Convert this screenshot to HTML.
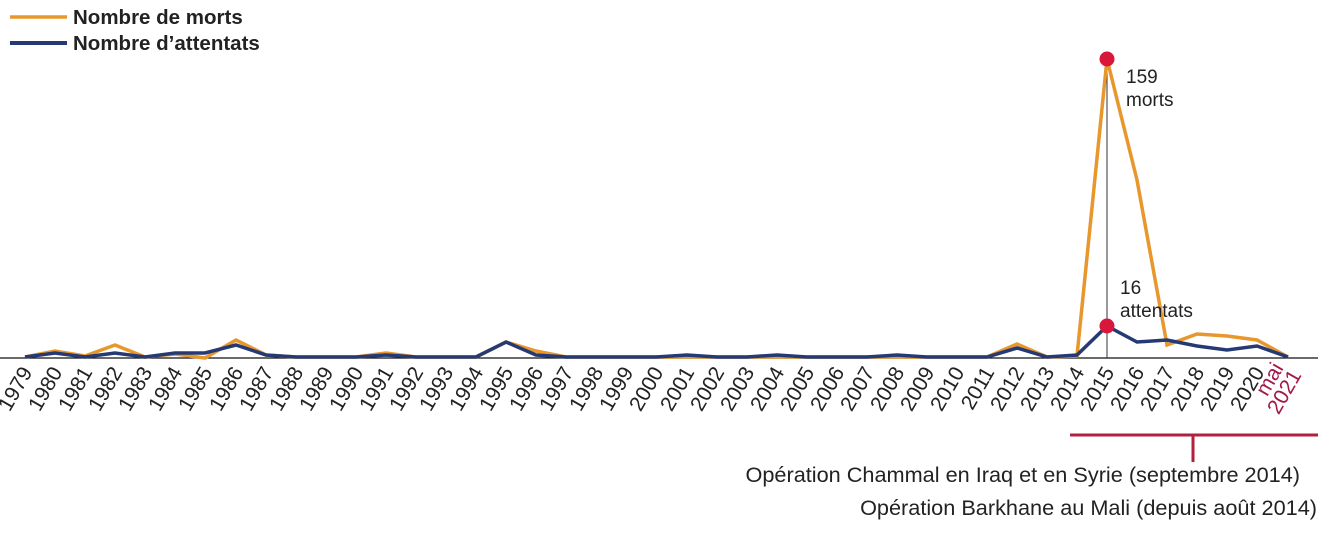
<!DOCTYPE html>
<html><head><meta charset="utf-8"><style>
html,body{margin:0;padding:0;background:#fff;}
svg{display:block;font-family:"Liberation Sans",sans-serif;}
</style></head><body>
<svg width="1332" height="533" viewBox="0 0 1332 533">
<line x1="10" y1="17" x2="67" y2="17" stroke="#e8972c" stroke-width="3.5"/>
<line x1="10" y1="43" x2="67" y2="43" stroke="#253a74" stroke-width="4"/>
<text x="73" y="24" font-size="20.5" font-weight="bold" fill="#222">Nombre de morts</text>
<text x="73" y="50" font-size="20.5" font-weight="bold" fill="#222">Nombre d’attentats</text>
<line x1="0" y1="358" x2="1318" y2="358" stroke="#111" stroke-width="1.3"/>
<line x1="1107" y1="60" x2="1107" y2="358" stroke="#333" stroke-width="1"/>
<polyline fill="none" stroke="#e8972c" stroke-width="3.5" stroke-linejoin="miter" points="25,357 55,351 85,356 115,345 145,357 175,354 205,358 236,340 266,355 296,357 326,357 356,357 386,353 416,357 446,357 476,357 506,342 536,351 566,357 596,357 626,357 656,357 687,357 717,357 747,357 777,357 807,357 837,357 867,357 897,357 927,357 957,357 987,357 1017,344 1047,357 1077,356 1107,59 1137,180 1167,345 1197,334 1227,336 1257,340 1288,357"/>
<polyline fill="none" stroke="#253a74" stroke-width="3.5" points="25,357 55,353 85,357 115,353 145,357 175,353 205,353 236,345 266,355 296,357 326,357 356,357 386,355 416,357 446,357 476,357 506,342 536,355 566,357 596,357 626,357 656,357 687,355 717,357 747,357 777,355 807,357 837,357 867,357 897,355 927,357 957,357 987,357 1017,348 1047,357 1077,355 1107,326 1137,342 1167,340 1197,346 1227,350 1257,346 1288,357"/>
<circle cx="1107" cy="59" r="7.5" fill="#d8173a"/>
<circle cx="1107" cy="326" r="7.5" fill="#d8173a"/>
<text x="1126" y="83" font-size="19" fill="#222">159</text>
<text x="1126" y="106" font-size="19" fill="#222">morts</text>
<text x="1120" y="294" font-size="19" fill="#222">16</text>
<text x="1120" y="317" font-size="19" fill="#222">attentats</text>
<g font-size="21" fill="#222" text-anchor="end">
<text transform="translate(33,372) rotate(-60)">1979</text>
<text transform="translate(63,372) rotate(-60)">1980</text>
<text transform="translate(93,372) rotate(-60)">1981</text>
<text transform="translate(123,372) rotate(-60)">1982</text>
<text transform="translate(153,372) rotate(-60)">1983</text>
<text transform="translate(183,372) rotate(-60)">1984</text>
<text transform="translate(213,372) rotate(-60)">1985</text>
<text transform="translate(244,372) rotate(-60)">1986</text>
<text transform="translate(274,372) rotate(-60)">1987</text>
<text transform="translate(304,372) rotate(-60)">1988</text>
<text transform="translate(334,372) rotate(-60)">1989</text>
<text transform="translate(364,372) rotate(-60)">1990</text>
<text transform="translate(394,372) rotate(-60)">1991</text>
<text transform="translate(424,372) rotate(-60)">1992</text>
<text transform="translate(454,372) rotate(-60)">1993</text>
<text transform="translate(484,372) rotate(-60)">1994</text>
<text transform="translate(514,372) rotate(-60)">1995</text>
<text transform="translate(544,372) rotate(-60)">1996</text>
<text transform="translate(574,372) rotate(-60)">1997</text>
<text transform="translate(604,372) rotate(-60)">1998</text>
<text transform="translate(634,372) rotate(-60)">1999</text>
<text transform="translate(664,372) rotate(-60)">2000</text>
<text transform="translate(695,372) rotate(-60)">2001</text>
<text transform="translate(725,372) rotate(-60)">2002</text>
<text transform="translate(755,372) rotate(-60)">2003</text>
<text transform="translate(785,372) rotate(-60)">2004</text>
<text transform="translate(815,372) rotate(-60)">2005</text>
<text transform="translate(845,372) rotate(-60)">2006</text>
<text transform="translate(875,372) rotate(-60)">2007</text>
<text transform="translate(905,372) rotate(-60)">2008</text>
<text transform="translate(935,372) rotate(-60)">2009</text>
<text transform="translate(965,372) rotate(-60)">2010</text>
<text transform="translate(995,372) rotate(-60)">2011</text>
<text transform="translate(1025,372) rotate(-60)">2012</text>
<text transform="translate(1055,372) rotate(-60)">2013</text>
<text transform="translate(1085,372) rotate(-60)">2014</text>
<text transform="translate(1115,372) rotate(-60)">2015</text>
<text transform="translate(1145,372) rotate(-60)">2016</text>
<text transform="translate(1175,372) rotate(-60)">2017</text>
<text transform="translate(1205,372) rotate(-60)">2018</text>
<text transform="translate(1235,372) rotate(-60)">2019</text>
<text transform="translate(1265,372) rotate(-60)">2020</text>
<text transform="translate(1284,368) rotate(-60)" fill="#a3174a">mai</text>
<text transform="translate(1302,375) rotate(-60)" fill="#a3174a">2021</text>
</g>
<line x1="1070" y1="435" x2="1318" y2="435" stroke="#b0203f" stroke-width="3"/>
<line x1="1193" y1="435" x2="1193" y2="462" stroke="#b0203f" stroke-width="3"/>
<g font-size="21.7" fill="#222" text-anchor="end">
<text x="1300" y="482">Opération Chammal en Iraq et en Syrie (septembre 2014)</text>
<text x="1317" y="515">Opération Barkhane au Mali (depuis août 2014)</text>
</g>
</svg>
</body></html>
